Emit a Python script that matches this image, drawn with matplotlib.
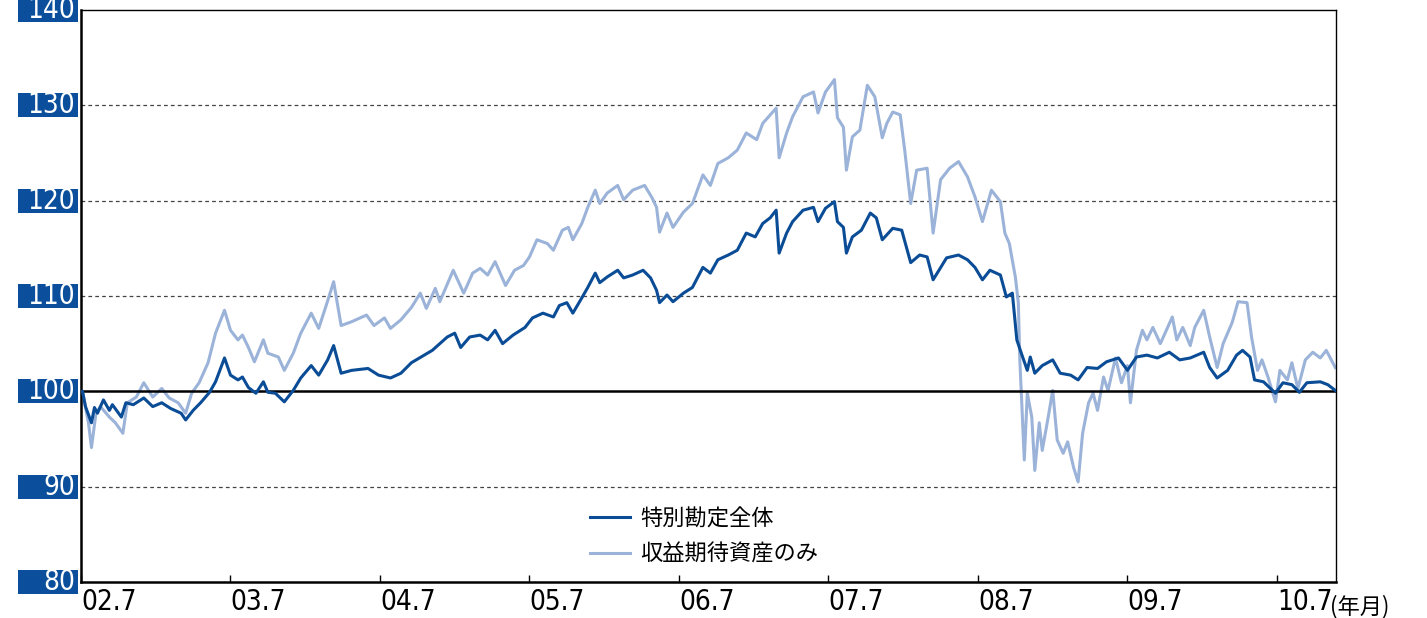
import matplotlib
matplotlib.use("Agg")
import matplotlib.pyplot as plt
import matplotlib.transforms as mtransforms
from matplotlib.patches import Rectangle

# 特別勘定全体 (decimal year, index)
total_t = [
    2002.50, 2002.51, 2002.53, 2002.57, 2002.59, 2002.61, 2002.65, 2002.69, 2002.71, 2002.77,
    2002.80, 2002.85, 2002.92, 2002.98, 2003.04, 2003.10, 2003.17, 2003.20, 2003.25, 2003.30,
    2003.36, 2003.40, 2003.46, 2003.50, 2003.55, 2003.58, 2003.62, 2003.67, 2003.72, 2003.75,
    2003.80, 2003.86, 2003.92, 2003.97, 2004.04, 2004.09, 2004.15, 2004.19, 2004.24, 2004.31,
    2004.42, 2004.49, 2004.57, 2004.64, 2004.71, 2004.85, 2004.95, 2005.00, 2005.04, 2005.10,
    2005.17, 2005.22, 2005.27, 2005.32, 2005.39, 2005.47, 2005.52, 2005.59, 2005.66, 2005.70,
    2005.75, 2005.79, 2005.85, 2005.89, 2005.94, 2005.97, 2006.02, 2006.09, 2006.13, 2006.19,
    2006.26, 2006.31, 2006.35, 2006.37, 2006.42, 2006.46, 2006.53, 2006.59, 2006.66, 2006.71,
    2006.76, 2006.83, 2006.89, 2006.95, 2007.01, 2007.06, 2007.11, 2007.15, 2007.17, 2007.22,
    2007.26, 2007.33, 2007.40, 2007.43, 2007.48, 2007.54, 2007.56, 2007.60, 2007.62, 2007.66,
    2007.72, 2007.78, 2007.82, 2007.86, 2007.93, 2007.99, 2008.05, 2008.11, 2008.16, 2008.20,
    2008.29, 2008.37, 2008.43, 2008.48, 2008.53, 2008.58, 2008.65, 2008.69, 2008.73, 2008.76,
    2008.79, 2008.83, 2008.85, 2008.88, 2008.93, 2009.00, 2009.05, 2009.12, 2009.17, 2009.23,
    2009.30, 2009.36, 2009.44, 2009.50, 2009.56, 2009.63, 2009.70, 2009.78, 2009.85, 2009.92,
    2010.01, 2010.05, 2010.10, 2010.17, 2010.23, 2010.27, 2010.32, 2010.35, 2010.41, 2010.49,
    2010.54, 2010.60, 2010.65, 2010.70, 2010.79, 2010.84, 2010.89,
]
total_v = [
    100.0, 100.0, 98.4, 96.7, 98.3, 97.7, 99.1, 98.0, 98.6, 97.3,
    98.8, 98.6, 99.3, 98.4, 98.8, 98.2, 97.7, 97.0, 98.0, 98.8,
    99.9, 101.0, 103.5, 101.7, 101.2, 101.5, 100.4, 99.8, 101.0, 99.9,
    99.8, 98.9, 100.1, 101.4, 102.7, 101.7, 103.3, 104.8, 101.9, 102.2,
    102.4, 101.7, 101.4, 101.9, 103.0, 104.3, 105.7, 106.1, 104.6, 105.7,
    105.9, 105.4, 106.4, 105.0, 105.9, 106.7, 107.7, 108.2, 107.8, 109.0,
    109.3, 108.2, 109.8, 110.9, 112.4, 111.4, 112.0, 112.7, 111.9, 112.2,
    112.7, 111.9, 110.6, 109.3, 110.1, 109.4, 110.3, 110.9, 113.0, 112.4,
    113.8, 114.3, 114.8, 116.6, 116.2, 117.6, 118.2, 119.0, 114.5, 116.6,
    117.8, 119.0, 119.3, 117.8, 119.2, 119.9, 117.8, 117.2, 114.5, 116.2,
    116.9, 118.7, 118.2, 115.9, 117.1, 116.9, 113.5, 114.3, 114.1, 111.7,
    114.0, 114.3, 113.8, 113.0, 111.7, 112.7, 112.2, 109.9, 110.3, 105.4,
    104.0, 102.2, 103.6, 101.9, 102.7, 103.3, 101.9, 101.7, 101.2, 102.5,
    102.4, 103.1, 103.5, 102.2, 103.6, 103.8, 103.5, 104.1, 103.3, 103.5,
    104.1, 102.5, 101.4, 102.2, 103.8, 104.3, 103.6, 101.2, 101.0, 99.8,
    100.9, 100.7, 99.9, 100.9, 101.0, 100.7, 100.1,
]

# 収益期待資産のみ (decimal year, index)
risky_t = [
    2002.50, 2002.51, 2002.55, 2002.57, 2002.60, 2002.63, 2002.69, 2002.73, 2002.78, 2002.81,
    2002.87, 2002.92, 2002.98, 2003.04, 2003.09, 2003.15, 2003.20, 2003.24, 2003.29, 2003.35,
    2003.40, 2003.46, 2003.50, 2003.55, 2003.58, 2003.62, 2003.66, 2003.72, 2003.75, 2003.82,
    2003.86, 2003.92, 2003.97, 2004.04, 2004.09, 2004.14, 2004.19, 2004.24, 2004.31, 2004.41,
    2004.46, 2004.53, 2004.57, 2004.64, 2004.71, 2004.77, 2004.81, 2004.87, 2004.90, 2004.99,
    2005.06, 2005.12, 2005.17, 2005.22, 2005.27, 2005.34, 2005.40, 2005.46, 2005.50, 2005.55,
    2005.62, 2005.66, 2005.72, 2005.76, 2005.79, 2005.85, 2005.89, 2005.94, 2005.97, 2006.02,
    2006.09, 2006.13, 2006.19, 2006.27, 2006.32, 2006.35, 2006.37, 2006.42, 2006.46, 2006.53,
    2006.59, 2006.66, 2006.71, 2006.76, 2006.83, 2006.89, 2006.95, 2007.02, 2007.06, 2007.15,
    2007.17, 2007.22, 2007.26, 2007.33, 2007.40, 2007.43, 2007.48, 2007.54, 2007.56, 2007.60,
    2007.62, 2007.66, 2007.71, 2007.76, 2007.81, 2007.86, 2007.89, 2007.93, 2007.98, 2008.01,
    2008.05, 2008.09, 2008.16, 2008.20, 2008.25, 2008.31, 2008.37, 2008.43, 2008.48, 2008.53,
    2008.59, 2008.65, 2008.68, 2008.71, 2008.75, 2008.77, 2008.78, 2008.79, 2008.81, 2008.83,
    2008.86, 2008.88, 2008.91, 2008.93, 2008.97, 2009.00, 2009.03, 2009.07, 2009.10, 2009.14,
    2009.17, 2009.20, 2009.24, 2009.27, 2009.30, 2009.34, 2009.37, 2009.42, 2009.46, 2009.50,
    2009.52, 2009.56, 2009.60, 2009.63, 2009.67, 2009.72, 2009.80, 2009.83, 2009.87, 2009.92,
    2009.95, 2010.01, 2010.05, 2010.10, 2010.14, 2010.20, 2010.24, 2010.30, 2010.33, 2010.37,
    2010.40, 2010.44, 2010.49, 2010.52, 2010.57, 2010.60, 2010.64, 2010.69, 2010.74, 2010.79,
    2010.83, 2010.89,
]
risky_v = [
    100.0, 100.0, 96.7, 94.1, 97.7, 98.4, 97.3, 96.7, 95.6, 98.8,
    99.4, 100.9, 99.4, 100.3, 99.3, 98.8, 97.7, 99.8, 100.9, 103.0,
    106.1, 108.5, 106.4, 105.4, 105.9, 104.6, 103.1, 105.4, 104.0, 103.6,
    102.2, 104.0, 106.1, 108.2, 106.6, 109.0, 111.5, 106.9, 107.3, 108.0,
    106.9, 107.7, 106.6, 107.5, 108.8, 110.3, 108.7, 110.8, 109.4, 112.7,
    110.3, 112.4, 112.9, 112.2, 113.6, 111.1, 112.7, 113.2, 114.1, 115.9,
    115.5, 114.8, 116.9, 117.2, 115.9, 117.6, 119.3, 121.1, 119.7, 120.8,
    121.6, 120.1, 121.1, 121.6, 120.3, 119.3, 116.7, 118.7, 117.2, 118.8,
    119.7, 122.7, 121.6, 123.9, 124.5, 125.3, 127.1, 126.4, 128.1, 129.7,
    124.5, 127.1, 128.8, 130.9, 131.4, 129.2, 131.4, 132.7, 128.7, 127.7,
    123.2, 126.7, 127.4, 132.1, 130.9, 126.6, 128.1, 129.3, 129.0, 125.3,
    119.7, 123.2, 123.4, 116.6, 122.2, 123.4, 124.1, 122.5, 120.4, 117.8,
    121.1, 119.9, 116.6, 115.5, 112.0, 109.3, 103.3, 99.8, 92.8, 99.8,
    97.3, 91.7, 96.7, 93.8, 97.3, 100.1, 94.9, 93.5, 94.7, 92.0,
    90.5, 95.6, 98.8, 99.8, 98.0, 101.5, 100.1, 103.5, 100.9, 102.7,
    98.8, 104.3, 106.4, 105.4, 106.7, 105.0, 107.8, 105.4, 106.7, 104.8,
    106.7, 108.5, 105.7, 102.5, 105.0, 107.2, 109.4, 109.3, 105.7, 102.2,
    103.3, 101.5, 98.9, 102.2, 101.2, 103.0, 100.3, 103.3, 104.1, 103.5,
    104.3, 102.5,
]

tick_pos = [2002.5, 2003.5, 2004.5, 2005.5, 2006.5, 2007.5, 2008.5, 2009.5, 2010.5]
tick_labels = ["02.7", "03.7", "04.7", "05.7", "06.7", "07.7", "08.7", "09.7", "10.7"]
y_levels = [80, 90, 100, 110, 120, 130, 140]

DARK = "#0a4c96"
LIGHT = "#9bb3d9"
BOX = "#0b4f9c"
CJK = ["Noto Sans CJK JP", "DejaVu Sans"]
narrow = dict(family="DejaVu Sans", stretch="condensed")

fig = plt.figure(figsize=(14.27, 6.18), dpi=100)
ax = fig.add_axes([81 / 1427, 1 - 582 / 618, 1255 / 1427, 572 / 618])

ax.set_xlim(2002.5, 2010.895)
ax.set_ylim(80, 140)

for lv in (90, 110, 120, 130):
    ax.axhline(lv, color="#444444", lw=0.9, ls=(0, (3, 2.5)), zorder=1)

ax.plot(risky_t, risky_v, color=LIGHT, lw=2.2, zorder=2, label="収益期待資産のみ")
ax.axhline(100, color="black", lw=1.8, zorder=3)
ax.plot(total_t, total_v, color=DARK, lw=2.2, zorder=4, label="特別勘定全体")

# spines
for s in ("left", "bottom"):
    ax.spines[s].set_linewidth(1.8)
for s in ("top", "right"):
    ax.spines[s].set_linewidth(1.0)

# x ticks: short inward marks, labels left-aligned to tick
ax.set_xticks(tick_pos)
ax.set_xticklabels(tick_labels, ha="left", fontsize=20, **narrow)
ax.tick_params(axis="x", direction="in", length=5, width=1.0, pad=4)
ax.text(0.9955, -0.022, "(年月)", transform=ax.transAxes, ha="left", va="top",
        family=CJK, fontsize=16)

# y labels in blue boxes
ax.set_yticks([])
trans = mtransforms.blended_transform_factory(ax.transAxes, ax.transData)
box_w = 60 / 1255
box_h = 2.5
for lv in y_levels:
    ax.add_patch(Rectangle((-63 / 1255, lv - box_h / 2), box_w, box_h,
                           transform=trans, facecolor=BOX, edgecolor="none",
                           clip_on=False, zorder=5))
    ax.text(-6 / 1255, lv, str(lv), transform=trans, ha="right", va="center",
            color="white", fontsize=20, zorder=6, clip_on=False, **narrow)

handles, labels = ax.get_legend_handles_labels()
leg = ax.legend(handles[::-1], labels[::-1], loc="center left",
                bbox_to_anchor=(0.4056, 0.08), frameon=False, borderpad=0,
                borderaxespad=0, handlelength=1.8, handletextpad=0.45,
                labelspacing=0.55, prop={"family": CJK, "size": 16})

fig.savefig("out.png", dpi=100)
